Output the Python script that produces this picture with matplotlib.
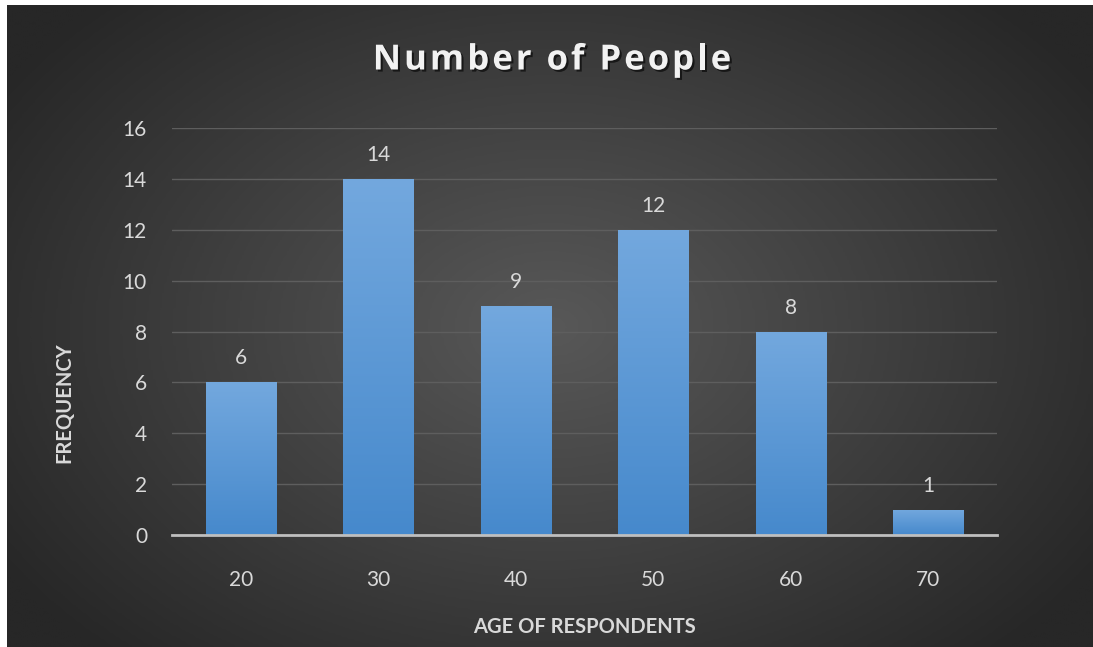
import numpy as np
import matplotlib
matplotlib.use("Agg")
import matplotlib.pyplot as plt
import matplotlib.patheffects as pe
from matplotlib.colors import LinearSegmentedColormap
from matplotlib.font_manager import FontProperties

categories = ["20", "30", "40", "50", "60", "70"]
counts = [6, 14, 9, 12, 8, 1]
yticks = [0, 2, 4, 6, 8, 10, 12, 14, 16]
title = "Number of People"
xlabel = "AGE OF RESPONDENTS"
ylabel = "FREQUENCY"

W, H = 1093, 647
fig = plt.figure(figsize=(W / 100, H / 100), dpi=100, facecolor="white")
plt.rcParams["font.family"] = ["Lato", "DejaVu Sans"]

# radial gradient background
bg = fig.add_axes([7 / W, 0, 1 - 7 / W, 1 - 5 / H])
bg.set_axis_off()
yy, xx = np.mgrid[0:300, 0:500]
cx, cy = 250, 150
r = np.sqrt(((xx - cx) / 300.0) ** 2 + ((yy - cy) / 210.0) ** 2)
r = np.clip(r, 0, 1)
bgcmap = LinearSegmentedColormap.from_list("bg", ["#585858", "#404040", "#272727"])
bg.imshow(r, cmap=bgcmap, aspect="auto", extent=[0, 1, 0, 1], interpolation="bilinear")
bg.set_xlim(0, 1)
bg.set_ylim(0, 1)

ax = fig.add_axes([172 / W, 1 - 535 / H, (997 - 172) / W, (535 - 128) / H])
ax.patch.set_alpha(0)
x = np.arange(len(categories))
bars = ax.bar(x, counts, width=0.51, color="#5b9bd5", zorder=3,
              path_effects=[pe.SimplePatchShadow(offset=(0, 0), shadow_rgbFace="#1a1a1a", alpha=0.5), pe.Normal()])

grad = np.linspace(0, 1, 256).reshape(-1, 1)
barcmap = LinearSegmentedColormap.from_list("bar", ["#4689cc", "#73a8de"])
for b in bars:
    bx, by = b.get_x(), b.get_y()
    bw, bh = b.get_width(), b.get_height()
    im = ax.imshow(grad, cmap=barcmap, origin="lower", aspect="auto",
                   extent=[bx, bx + bw, by, by + bh], zorder=4)
    im.set_clip_path(b)
ax.set_xlim(-0.5, len(categories) - 0.5)
ax.set_ylim(0, 16)

for xi, v in zip(x, counts):
    ax.annotate(str(v), (xi, v), xytext=(0, 10), textcoords="offset points",
                ha="center", va="bottom", fontsize=15, color="#d9d9d9", zorder=5)

ax.set_yticks(yticks)
ax.set_yticklabels([str(t) for t in yticks])
ax.set_xticks(x)
ax.set_xticklabels(categories)
ax.tick_params(axis="both", length=0, labelsize=15, labelcolor="#d9d9d9")
ax.tick_params(axis="y", pad=18)
ax.tick_params(axis="x", pad=25)
ax.grid(axis="y", color="#5e5e5e", linewidth=1.0, zorder=0)
for s in ["top", "right", "left"]:
    ax.spines[s].set_visible(False)
ax.spines["bottom"].set_color("#bfbfbf")
ax.spines["bottom"].set_linewidth(2)
ax.spines["bottom"].set_zorder(6)

fig.text(584 / W, 1 - 627 / H, xlabel, ha="center", va="center", fontsize=14.5,
         fontweight="bold", color="#d9d9d9")
fig.text(64 / W, 1 - 403 / H, ylabel, ha="center", va="center", rotation=90,
         fontsize=14.5, fontweight="bold", color="#d9d9d9")

# title with letter spacing
renderer = fig.canvas.get_renderer()
tprop = FontProperties(family=["Open Sans", "DejaVu Sans"], weight="bold", size=25)
spacing = 3.0  # px between letters
prefix_w = []
for i in range(len(title) + 1):
    if i == 0:
        prefix_w.append(0.0)
    else:
        w, _, _ = renderer.get_text_width_height_descent(title[:i], tprop, ismath=False)
        prefix_w.append(w)
total = prefix_w[-1] + spacing * (len(title) - 1)
x0 = 552 - total / 2
ty = 1 - 56 / H
for i, ch in enumerate(title):
    if ch == " ":
        continue
    px = x0 + prefix_w[i] + spacing * i
    fig.text(px / W, ty, ch, ha="left", va="center_baseline", fontproperties=tprop,
             color="#f2f2f2",
             path_effects=[pe.SimplePatchShadow(offset=(1.5, -1.5), shadow_rgbFace="#000000", alpha=0.6), pe.Normal()])

fig.savefig("out.png", dpi=100, facecolor="white")
